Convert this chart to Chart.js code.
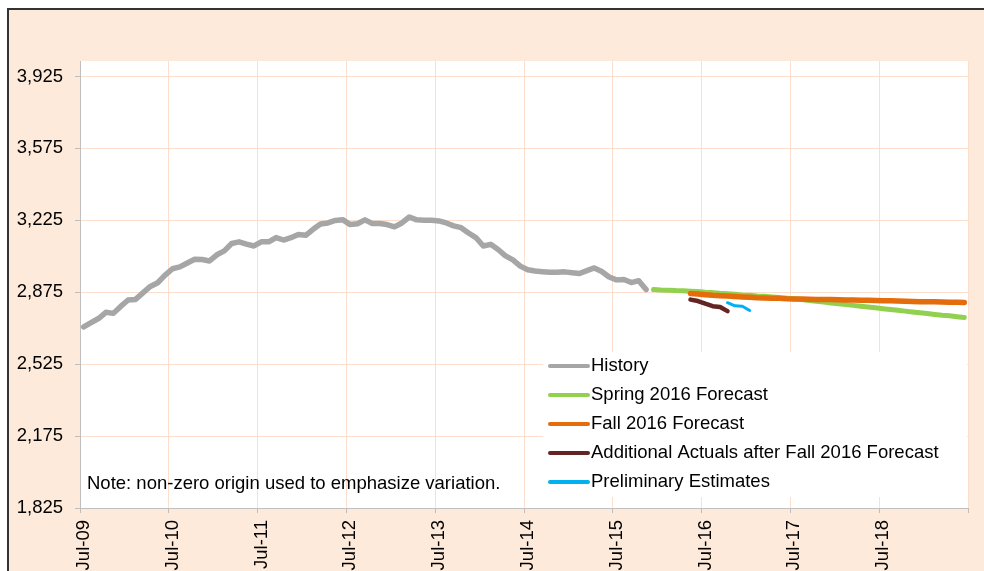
<!DOCTYPE html>
<html>
<head>
<meta charset="utf-8">
<title>History and forecasts</title>
<script src="https://cdn.jsdelivr.net/npm/chart.js@4.4.0/dist/chart.umd.min.js"></script>
<style>
  html, body { margin: 0; padding: 0; background: #fff; }
  #frame {
    position: absolute; left: 7px; top: 8px; width: 977px; height: 563px;
    background: #fdeada; border-top: 2px solid #333; border-left: 2px solid #333;
    box-sizing: border-box;
  }
  #wrap { position: absolute; left: 0; top: 0; width: 984px; height: 571px; }
</style>
</head>
<body>
<div id="frame"></div>
<div id="wrap"><canvas id="chart" width="984" height="571"></canvas></div>
<script>
// ===== DATA (monthly, month 0 = Jul-09, points sit mid-month) =====
const xTickMonths = [0, 12, 24, 36, 48, 60, 72, 84, 96, 108, 120];
const xTickLabels = ["Jul-09", "Jul-10", "Jul-11", "Jul-12", "Jul-13", "Jul-14", "Jul-15", "Jul-16", "Jul-17", "Jul-18"];
const yTicks = [1825, 2175, 2525, 2875, 3225, 3575, 3925];

const historyStart = 0;
const historyValues = [
  2706, 2727, 2747, 2777, 2772, 2806, 2837, 2840, 2872, 2903, 2921, 2958,
  2989, 2998, 3017, 3035, 3034, 3027, 3057, 3076, 3112, 3120, 3109, 3100,
  3120, 3120, 3141, 3129, 3140, 3156, 3152, 3181, 3207, 3212, 3224, 3228,
  3204, 3208, 3227, 3209, 3209, 3204, 3193, 3212, 3241, 3227, 3225, 3225,
  3222, 3212, 3198, 3189, 3163, 3141, 3100, 3108, 3083, 3052, 3032, 3002,
  2984, 2978, 2975, 2972, 2972, 2974, 2970, 2966, 2980, 2993, 2976, 2949,
  2935, 2937, 2922, 2931, 2888
];

const springStart = 77;
const springValues = [
  2888, 2886, 2885, 2883, 2882, 2880, 2878, 2875, 2873, 2870,
  2868, 2865, 2862, 2860, 2857, 2855, 2852, 2849, 2846, 2843,
  2839, 2835, 2831, 2827, 2823, 2819, 2815, 2811, 2807, 2803,
  2799, 2795, 2791, 2787, 2783, 2779, 2775, 2771, 2767, 2763,
  2760, 2756, 2752
];

const fallStart = 82;
const fallValues = [
  2869, 2866, 2863, 2860, 2858, 2856, 2854, 2852, 2850, 2848,
  2847, 2846, 2845, 2843, 2842, 2842, 2841, 2840, 2839, 2839,
  2838, 2837, 2837, 2836, 2836, 2835, 2834, 2833, 2832, 2831,
  2830, 2829, 2828, 2828, 2827, 2826, 2826, 2825
];

const actualsStart = 82;
const actualsValues = [2839, 2832, 2819, 2807, 2803, 2783];

const prelimStart = 87;
const prelimValues = [2824, 2809, 2807, 2786];

const noteText = "Note: non-zero origin used to emphasize variation.";

// ===== HELPERS =====
function toPoints(start, values) {
  return values.map((v, i) => ({ x: start + i + 0.5, y: v }));
}

const FONT = '"Liberation Sans", Arial, sans-serif';
const GRID = "#fbdfcc";
const AXIS = "#bfbfbf";

// white plot area
const plotBackground = {
  id: "plotBackground",
  beforeDraw(chart) {
    const { ctx, chartArea: a } = chart;
    ctx.save();
    ctx.fillStyle = "#fff";
    ctx.fillRect(a.left, a.top, a.right - a.left, a.bottom - a.top);
    ctx.restore();
  }
};

// legend box + note, inside the plot
const boxLegend = {
  id: "boxLegend",
  afterDatasetsDraw(chart) {
    const ctx = chart.ctx;
    const a = chart.chartArea;
    ctx.save();
    ctx.fillStyle = "#fff";
    ctx.fillRect(543, 352, a.right - 543 - 1, 145);
    ctx.font = "18.5px " + FONT;
    ctx.textBaseline = "middle";
    ctx.fillStyle = "#000";
    chart.data.datasets.forEach((ds, i) => {
      const y = 366 + i * 29;
      ctx.strokeStyle = ds.borderColor;
      ctx.lineWidth = 4;
      ctx.lineCap = "round";
      ctx.beginPath();
      ctx.moveTo(550, y);
      ctx.lineTo(588, y);
      ctx.stroke();
      ctx.fillText(ds.label, 591, y);
    });
    ctx.fillText(noteText, 87, 484);
    ctx.restore();
  }
};

function lineSet(label, start, values, color, width, order) {
  return {
    label: label,
    data: toPoints(start, values),
    borderColor: color,
    backgroundColor: color,
    borderWidth: width,
    borderCapStyle: "round",
    borderJoinStyle: "round",
    pointRadius: 0,
    tension: 0,
    fill: false,
    order: order
  };
}

// ===== CHART =====
new Chart(document.getElementById("chart"), {
  type: "line",
  data: {
    datasets: [
      lineSet("History", historyStart, historyValues, "#a6a6a6", 5.5, 5),
      lineSet("Spring 2016 Forecast", springStart, springValues, "#92d050", 5, 4),
      lineSet("Fall 2016 Forecast", fallStart, fallValues, "#e46c0a", 5.5, 3),
      lineSet("Additional Actuals after Fall 2016 Forecast", actualsStart, actualsValues, "#632423", 4.5, 2),
      lineSet("Preliminary Estimates", prelimStart, prelimValues, "#00b0f0", 3, 1)
    ]
  },
  options: {
    responsive: false,
    animation: false,
    layout: { padding: { left: 0, right: 16, top: 61, bottom: 0 } },
    plugins: {
      legend: { display: false },
      tooltip: { enabled: false }
    },
    scales: {
      x: {
        type: "linear",
        min: 0,
        max: 120,
        afterBuildTicks: (scale) => { scale.ticks = xTickMonths.map(v => ({ value: v })); },
        afterFit: (scale) => {
          scale.height = 63;
          scale.paddingLeft = 0;
          scale.paddingRight = 0;
        },
        grid: { color: GRID, tickColor: AXIS, tickLength: 5, drawTicks: true },
        border: { color: AXIS, width: 1 },
        ticks: {
          autoSkip: false,
          minRotation: 90,
          maxRotation: 90,
          padding: 7,
          labelOffset: 4,
          color: "#000",
          font: { family: FONT, size: 18.5 },
          callback: (value, index) => xTickLabels[index] || ""
        }
      },
      y: {
        min: 1825,
        max: 4000,
        afterBuildTicks: (scale) => { scale.ticks = yTicks.map(v => ({ value: v })); },
        afterFit: (scale) => {
          scale.width = 80;
          scale.paddingTop = 0;
          scale.paddingBottom = 0;
        },
        grid: { color: GRID, tickColor: AXIS, tickLength: 5, drawTicks: true },
        border: { color: AXIS, width: 1 },
        ticks: {
          padding: 12,
          color: "#000",
          font: { family: FONT, size: 18.5 },
          callback: (value) => value.toLocaleString("en-US")
        }
      }
    }
  },
  plugins: [plotBackground, boxLegend]
});
</script>
</body>
</html>
